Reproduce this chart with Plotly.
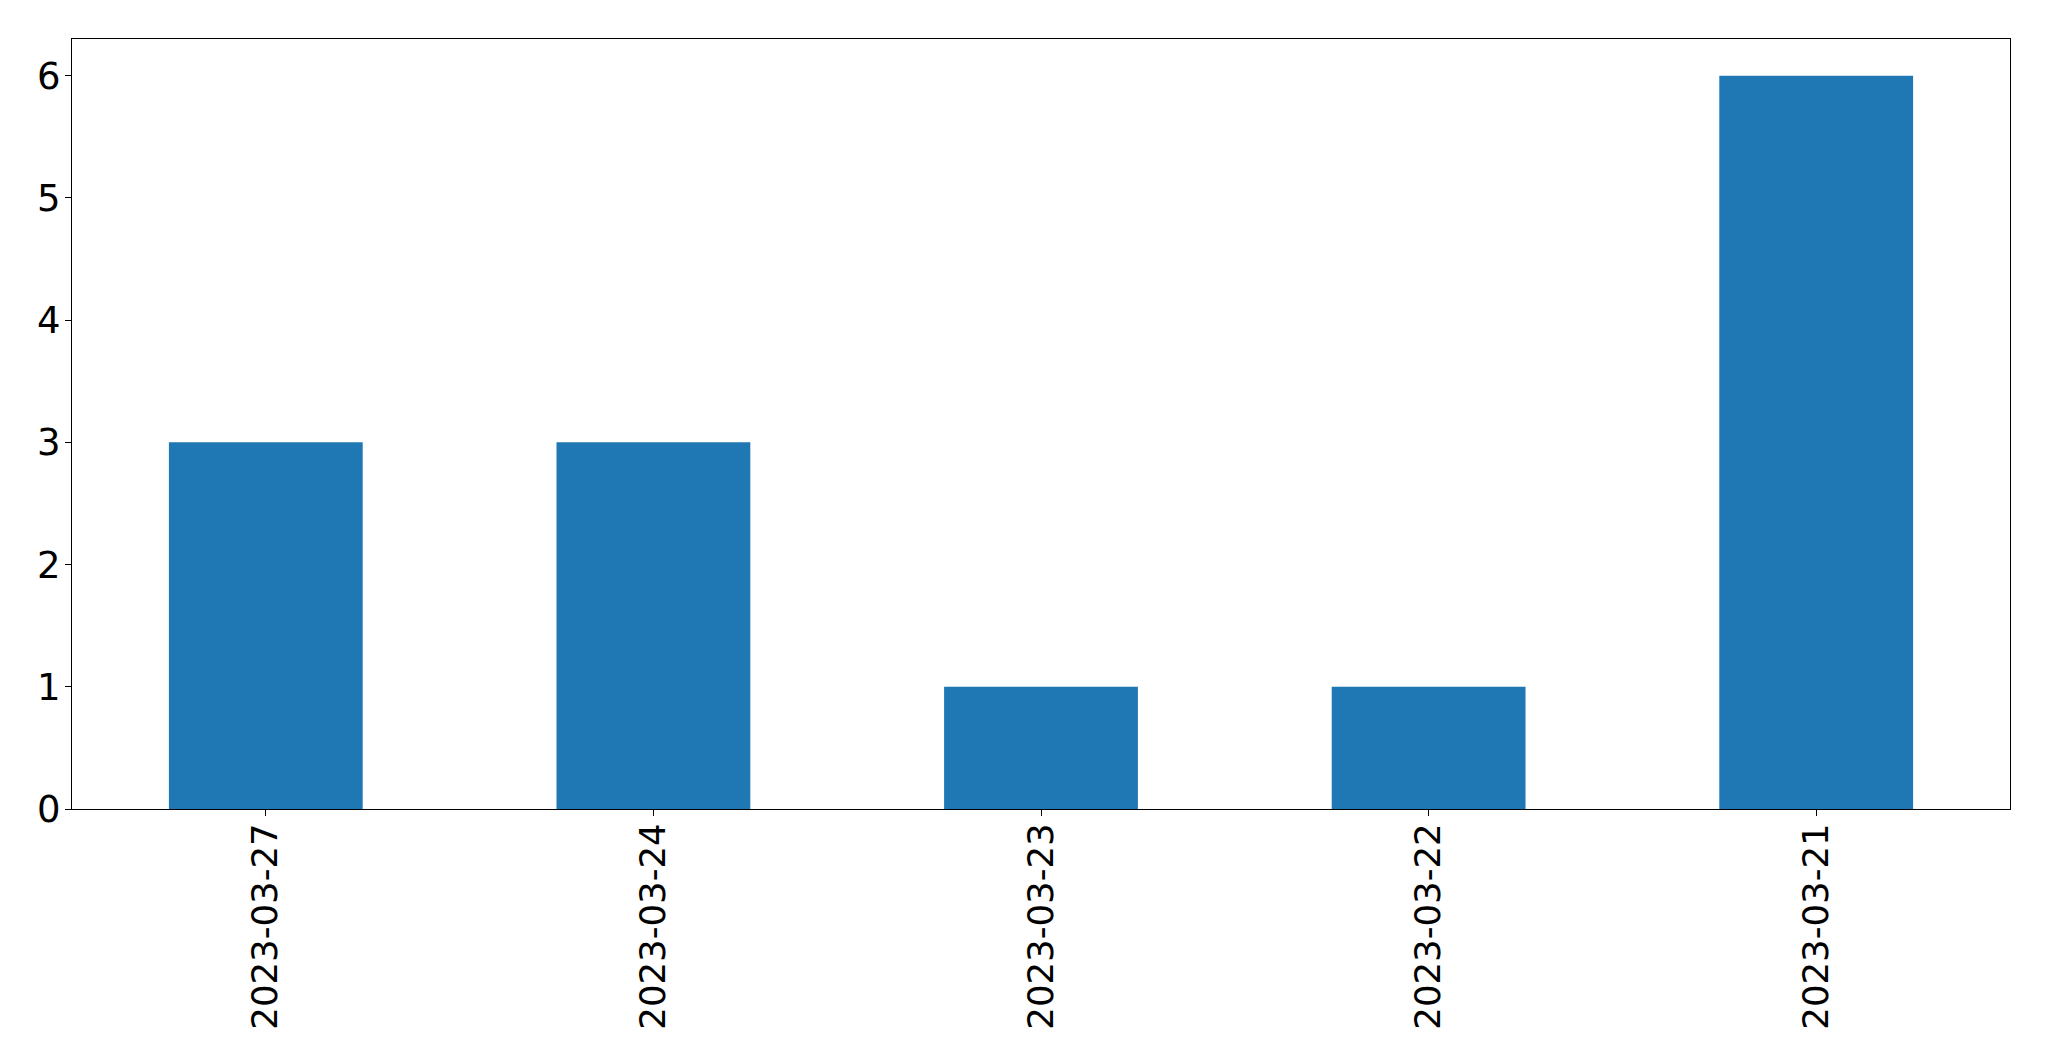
import plotly.graph_objects as go

categories = ["2023-03-27", "2023-03-24", "2023-03-23", "2023-03-22", "2023-03-21"]
values = [3, 3, 1, 1, 6]
y_ticks = [0, 1, 2, 3, 4, 5, 6]

fig = go.Figure(go.Bar(x=categories, y=values, width=0.5, marker=dict(color="#1f77b4", line=dict(width=0))))

axis_common = dict(showline=True, linecolor="black", linewidth=1.3, mirror=True,
                   ticks="outside", ticklen=6, tickwidth=1.3, tickcolor="black",
                   showgrid=False, zeroline=False)

fig.update_layout(
    width=2041, height=1053,
    margin=dict(l=64, r=39, t=31, b=252),
    paper_bgcolor="white", plot_bgcolor="white",
    showlegend=False,
    xaxis=dict(type="category", range=[-0.5, 4.5], tickangle=-90, ticklabelstandoff=-7,
               tickfont=dict(family="DejaVu Sans", size=35.5, color="black"), **axis_common),
    yaxis=dict(range=[0, 6.3], tickvals=y_ticks, ticklabelstandoff=-3,
               tickfont=dict(family="DejaVu Sans", size=37, color="black"), **axis_common),
)

fig.write_html("out.html")
